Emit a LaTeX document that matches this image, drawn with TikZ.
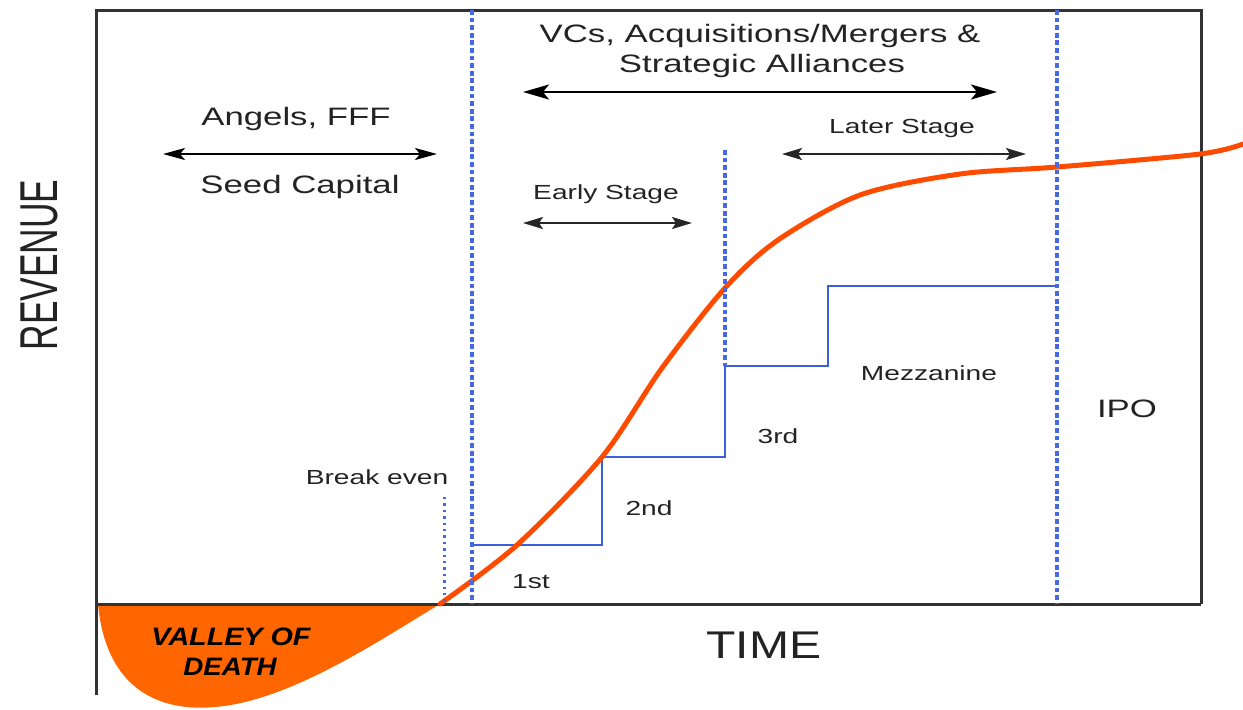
\documentclass[tikz,border=0pt]{standalone}
\usepackage{fontspec}
\setmainfont{Liberation Sans}
\usetikzlibrary{arrows.meta}
\definecolor{curveC}{RGB}{255,75,0}
\definecolor{valleyC}{RGB}{255,102,0}
\definecolor{stepC}{RGB}{60,95,220}
\definecolor{dashC}{RGB}{70,105,225}
\definecolor{axisC}{RGB}{50,50,50}
\definecolor{txtC}{RGB}{35,35,35}
\newcommand\hs[2][1.38]{\scalebox{#1}[1]{#2}}
\begin{document}
\begin{tikzpicture}[x=0.5pt,y=-0.5pt,
  lbl/.style={inner sep=0pt,anchor=base,text=txtC,font=\fontsize{12.6}{15}\selectfont},
  slbl/.style={inner sep=0pt,anchor=base,text=txtC,font=\fontsize{10.2}{12}\selectfont},
  axislbl/.style={inner sep=0pt,text=txtC,font=\fontsize{19.3}{22}\selectfont},
  valleylbl/.style={inner sep=0pt,anchor=base,text=black,font=\fontsize{12.6}{15}\selectfont\bfseries\itshape},
  bigarrow/.style={line width=1.2pt,draw=black,{Stealth[length=13pt,width=7.5pt,inset=3pt]}-{Stealth[length=13pt,width=7.5pt,inset=3pt]}},
  midarrow/.style={line width=1.1pt,draw=black,{Stealth[length=11pt,width=6pt,inset=2.5pt]}-{Stealth[length=11pt,width=6pt,inset=2.5pt]}},
  smallarrow/.style={line width=0.9pt,draw=black!85,{Stealth[length=10pt,width=6pt,inset=2pt]}-{Stealth[length=10pt,width=6pt,inset=2pt]}},
  boxline/.style={draw=axisC,line width=1.5pt},
  vdash/.style={draw=dashC,line width=1.8pt,dash pattern=on 2.4pt off 1.4pt},
  vdot/.style={draw=dashC,line width=1.5pt,dash pattern=on 1.2pt off 2pt},
  stepline/.style={draw=stepC,line width=1.05pt},
  growth/.style={draw=curveC,line width=2.5pt,line cap=round}
]
\useasboundingbox (0,0) rectangle (1243,709);

% valley of death
\fill[valleyC] (98,604) .. controls (106,690) and (160,712) .. (215,707)
  .. controls (290,701) and (380,640) .. (440,604) -- cycle;

% frame / axes
\draw[boxline] (96,695) -- (96,10) -- (1201,10) -- (1201,604);
\draw[boxline] (96,604) -- (1201,604);

% funding steps
\draw[stepline] (472,545) -- (602,545) -- (602,457) -- (725,457) -- (725,366)
  -- (828,366) -- (828,286) -- (1057,286);

% growth curve
\draw[growth] plot[smooth,tension=0.5] coordinates {(440,604) (517,545) (602,457) (662,368) (725,288) (778,240) (860,195) (960,174) (1057,167) (1200,154) (1243,144)};

% stage separators
\draw[vdash] (472,10) -- (472,604);
\draw[vdash] (1057,10) -- (1057,604);
\draw[vdash] (725,150) -- (725,366);
\draw[vdot] (444,497) -- (444,604);

% arrows
\coordinate (angL) at (163,154);
\coordinate (angR) at (437,154);
\coordinate (vcL) at (523,92);
\coordinate (vcR) at (997,92);
\coordinate (earlyL) at (523,223);
\coordinate (earlyR) at (692,223);
\coordinate (laterL) at (782,154);
\coordinate (laterR) at (1026,154);
\draw[midarrow] (angL) -- (angR);
\draw[bigarrow] (vcL) -- (vcR);
\draw[smallarrow] (earlyL) -- (earlyR);
\draw[smallarrow] (laterL) -- (laterR);

% labels
\node[lbl] (angels) at (296,125) {\hs{Angels, FFF}};
\node[lbl] (seed) at (300,193) {\hs{Seed Capital}};
\node[lbl] (vc1) at (760,42) {\hs{VCs, Acquisitions/Mergers \&}};
\node[lbl] (vc2) at (762,72) {\hs{Strategic Alliances}};
\node[slbl] (later) at (902,133) {\hs{Later Stage}};
\node[slbl] (early) at (606,199) {\hs{Early Stage}};
\node[slbl] (breakeven) at (377,484) {\hs{Break even}};
\node[slbl] (first) at (531,588) {\hs{1st}};
\node[slbl] (second) at (649,515) {\hs{2nd}};
\node[slbl] (third) at (778,443) {\hs{3rd}};
\node[slbl] (mezz) at (929,380) {\hs{Mezzanine}};
\node[lbl] (ipo) at (1127,417) {\hs{IPO}};
\node[axislbl,anchor=base] (time) at (764,658) {\hs[1.245]{TIME}};
\node[axislbl,rotate=90] (revenue) at (39,265) {\scalebox{0.916}[1.38]{REVENUE}};
\node[valleylbl] (valley1) at (231,645) {\hs[1.14]{VALLEY OF}};
\node[valleylbl] (valley2) at (230,675) {\hs[1.1]{DEATH}};
\end{tikzpicture}
\end{document}
